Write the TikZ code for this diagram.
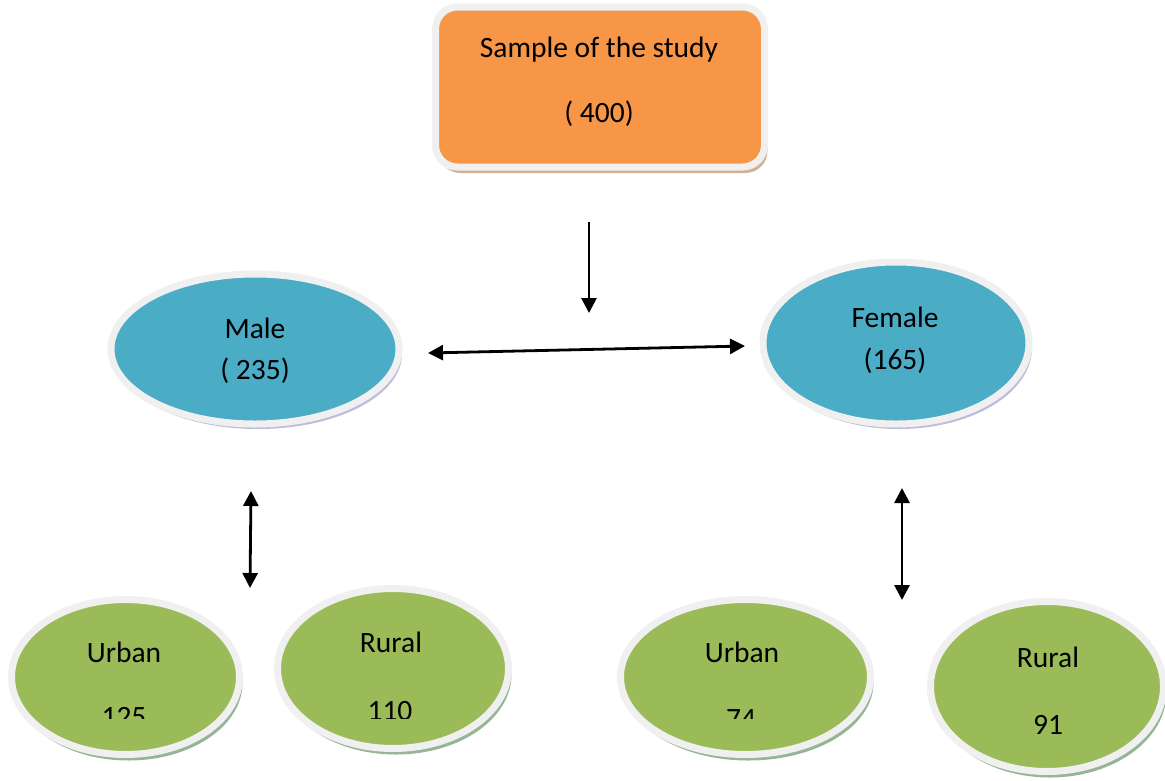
\documentclass[tikz,border=0pt]{standalone}
\usepackage{fontspec}
\setmainfont{Carlito}
\usetikzlibrary{arrows.meta,shapes.geometric,shadows}
\definecolor{boxorange}{HTML}{F79646}
\definecolor{ellblue}{HTML}{4BACC6}
\definecolor{ellgreen}{HTML}{9BBB59}
\definecolor{rimgray}{HTML}{F0F0F0}
\tikzset{
  rim/.style={draw=rimgray, line width=7pt, inner sep=0pt},
  topbox/.style={rim, rectangle, rounded corners=22pt, fill=boxorange,
    drop shadow={shadow xshift=3pt, shadow yshift=-6pt, opacity=.6, fill=brown!70!orange!60!gray}},
  blueell/.style={rim, ellipse, fill=ellblue,
    drop shadow={shadow xshift=3pt, shadow yshift=-5pt, opacity=.4, fill=gray!70!blue}},
  greenell/.style={rim, ellipse, fill=ellgreen,
    drop shadow={shadow xshift=3pt, shadow yshift=-6pt, opacity=.5, fill=gray!60!green!60!black}},
  lbl/.style={anchor=base, inner sep=0pt, font=\fontsize{29.5}{35}\selectfont},
  arr/.style={line width=2.8pt, -{Triangle[length=15pt,width=15pt]}},
  darr/.style={line width=2.8pt, {Triangle[length=15pt,width=15pt]}-{Triangle[length=15pt,width=15pt]}},
}
\begin{document}
\begin{tikzpicture}[x=1pt,y=-1pt]
\useasboundingbox (0,0) rectangle (1165,780);
% top box
\node[topbox, minimum width=329pt, minimum height=160pt] (sample) at (600,87) {};
\node[lbl] (sampleT) at (599,57) {Sample of the study};
\node[lbl] (sampleN) at (599,122) {( 400)};
% gender
\node[blueell, minimum width=288pt, minimum height=150pt] (male) at (255,349) {};
\node[lbl] (maleT) at (255,338) {Male};
\node[lbl] (maleN) at (255,379) {( 235)};
\node[blueell, minimum width=266pt, minimum height=162pt] (female) at (896,343) {};
\node[lbl] (femaleT) at (895,327) {Female};
\node[lbl] (femaleN) at (895,369) {(165)};
% residence
\node[greenell, minimum width=228pt, minimum height=155pt] (urbanA) at (125.5,677) {};
\node[lbl] (urbanAT) at (124,662) {Urban};
\node[greenell, minimum width=231pt, minimum height=160pt] (ruralA) at (393,668.5) {};
\node[lbl] (ruralAT) at (391,652) {Rural};
\node[greenell, minimum width=250pt, minimum height=155pt] (urbanB) at (745.5,677) {};
\node[lbl] (urbanBT) at (742,662) {Urban};
\node[greenell, minimum width=233pt, minimum height=170pt] (ruralB) at (1047,686.5) {};
\node[lbl] (ruralBT) at (1048,667) {Rural};
\node[lbl] (ruralBN) at (1048,734) {91};
\begin{scope}
  \clip (0,0) rectangle (1165,718);
  \node[lbl] (urbanAN) at (124,726) {125};
  \node[lbl] (ruralAN) at (390,720) {110};
  \node[lbl] (urbanBN) at (741,728) {74};
\end{scope}
% connectors
\coordinate (dTop) at (589,222);
\coordinate (dBot) at (589,313);
\coordinate (hL) at (428,353);
\coordinate (hR) at (745,346);
\coordinate (mUp) at (251,491);
\coordinate (mDn) at (250,588);
\coordinate (fUp) at (902,488);
\coordinate (fDn) at (902,600);
\draw[arr] (dTop) -- (dBot);
\draw[darr] (hL) -- (hR);
\draw[darr] (mUp) -- (mDn);
\draw[darr] (fUp) -- (fDn);
\end{tikzpicture}
\end{document}
